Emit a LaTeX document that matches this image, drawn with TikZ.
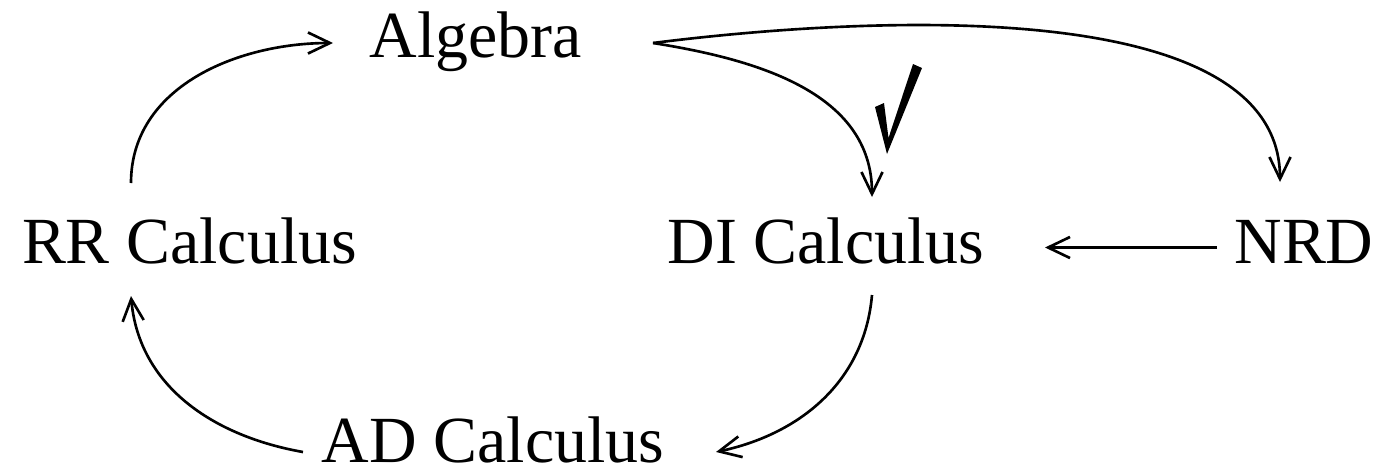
\documentclass[tikz,border=0pt]{standalone}
\usepackage{fontspec}
\setmainfont{Liberation Serif}
\usetikzlibrary{arrows.meta,calc}
\begin{document}
\begin{tikzpicture}[x=0.02cm,y=0.02cm,
  lbl/.style={inner sep=0pt,anchor=base,font=\fontsize{37.5pt}{45pt}\selectfont},
  arr/.style={line width=1.5pt,-{Straight Barb[length=12.5pt,width=12pt]}}]
\useasboundingbox (0,0) rectangle (1380,-474);
\node[lbl] (alg) at (476,-57) {Algebra};
\node[lbl] (rr) at (189.5,-263) {RR Calculus};
\node[lbl] (di) at (826,-263) {DI Calculus};
\node[lbl] (nrd) at (1304,-263) {NRD};
\node[lbl] (ad) at (493,-462) {AD Calculus};
\draw[arr] ($(rr.base)+(-58.5,80)$) to[out=90,in=180] ($(alg.base)+(-143,14)$);
\draw[arr] ($(alg.base)+(177,14)$) to[out=-9,in=90] ($(di.base)+(46,66)$);
\draw[arr] ($(alg.base)+(177,14)$) .. controls +(197,25) and +(0,192) .. ($(nrd.base)+(-24,81)$);
\draw[arr] ($(nrd.base)+(-87,15.5)$) -- ($(di.base)+(219,15.5)$);
\draw[arr] ($(di.base)+(46,-32)$) to[out=-95,in=12] ($(ad.base)+(223,10)$);
\draw[arr] ($(ad.base)+(-190,10)$) to[out=170,in=-85] ($(rr.base)+(-58.5,-33)$);
\fill (875,-107) -- (884,-103) -- (888.5,-138) -- (913,-64) -- (922,-68) -- (887,-154) -- cycle;
\end{tikzpicture}
\end{document}
